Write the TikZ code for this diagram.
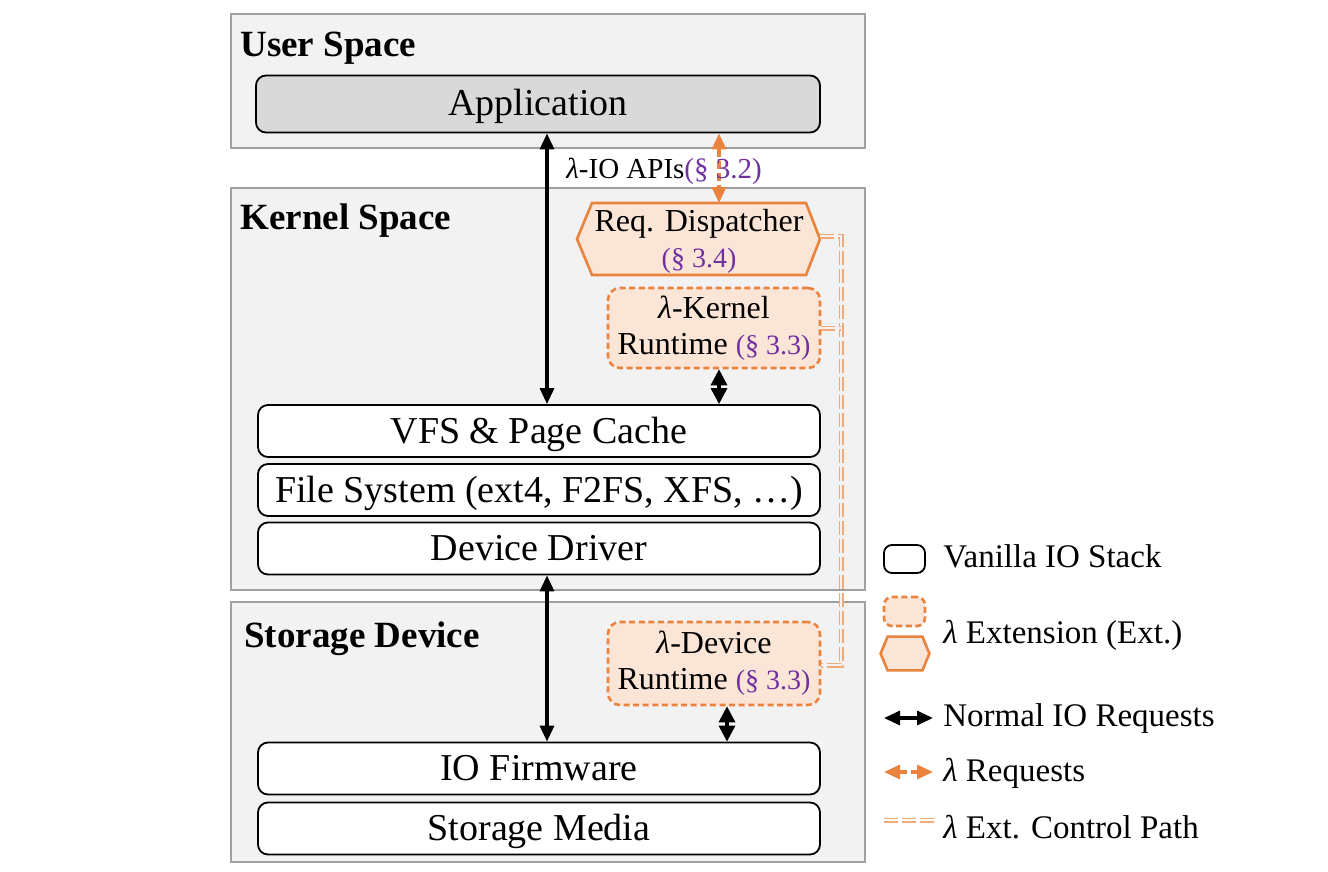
\documentclass[tikz,border=0pt]{standalone}
\usepackage{fontspec}
\setmainfont{Liberation Serif}
\usetikzlibrary{arrows.meta,calc}
\definecolor{extorange}{HTML}{E9833D}
\definecolor{extfill}{HTML}{FBE5D6}
\definecolor{ctrlorange}{HTML}{F1A977}
\definecolor{secpurple}{HTML}{7030A0}
\definecolor{layerfill}{HTML}{F2F2F2}
\definecolor{layergray}{HTML}{A0A0A0}
\definecolor{appfill}{HTML}{D9D9D9}
\newcommand\lam{\textit{λ}}
\newcommand\sect[1]{{\fontsize{14}{16}\selectfont\textcolor{secpurple}{#1}}}
\begin{document}
\begin{tikzpicture}[x=0.5pt,y=-0.5pt,
  layer/.style={draw=layergray, fill=layerfill, line width=1pt, minimum width=317pt, inner sep=0pt},
  layerlabel/.style={anchor=west, inner sep=0pt, font=\fontsize{18.5}{21}\selectfont\bfseries},
  stackbox/.style={draw=black, fill=white, rounded corners=5pt, line width=0.9pt, minimum width=281pt, minimum height=26pt, inner sep=0pt, text height=14pt, text depth=2pt, font=\fontsize{19}{22}\selectfont},
  extbox/.style={draw=extorange, fill=extfill, dash pattern=on 3pt off 1.8pt, rounded corners=6pt, line width=1.3pt, minimum width=106pt, inner sep=0pt, align=center, font=\fontsize{16}{19}\selectfont},
  hexline/.style={draw=extorange, fill=extfill, line width=1.3pt, line join=miter},
  bigarrow/.style={draw=black, line width=1.6pt, {Triangle[length=8pt,width=7pt]}-{Triangle[length=8pt,width=7pt]}},
  smallarrow/.style={draw=black, line width=1.6pt, {Triangle[length=8pt,width=8pt]}-{Triangle[length=8pt,width=8pt]}},
  lamarrow/.style={draw=extorange, line width=1.6pt, dash pattern=on 4pt off 2pt, {Triangle[length=8pt,width=7pt]}-{Triangle[length=8pt,width=7pt]}},
  ctrl/.style={draw=ctrlorange, line width=0.85pt, double=layerfill, double distance=0.8pt, dash pattern=on 7pt off 2pt},
  legtext/.style={anchor=west, inner sep=0pt, font=\fontsize{16.5}{19}\selectfont}
]
\useasboundingbox[fill=white] (0,0) rectangle (1328,872);

% layers
\node[layer, minimum height=67pt] (user) at (548,81) {};
\node[layer, minimum height=201pt] (kernel) at (548,389) {};
\node[layer, minimum height=130pt] (storage) at (548,732) {};
\node[layerlabel] (userlbl) at (240,48) {User Space};
\node[layerlabel] (kernellbl) at (240,221) {Kernel Space};
\node[layerlabel] (storagelbl) at (244,639) {Storage Device};

% stack boxes
\node[stackbox, fill=appfill, minimum width=282pt, minimum height=28.5pt] (app) at (538,104) {Application};
\node[stackbox] (vfs) at (539,431) {VFS \& Page Cache};
\node[stackbox] (fs) at (539,490) {File System (ext4, F2FS, XFS, …)};
\node[stackbox] (drv) at (539,548.5) {Device Driver};
\node[stackbox] (fw) at (539,768.5) {IO Firmware};
\node[stackbox] (media) at (539,828.5) {Storage Media};

% request dispatcher (hexagon)
\coordinate (dispc) at (699,239);
\path[hexline] ($(dispc)+(-107,-36)$) -- ($(dispc)+(107,-36)$) -- ($(dispc)+(121,0)$) -- ($(dispc)+(107,36)$)
  -- ($(dispc)+(-107,36)$) -- ($(dispc)+(-122,0)$) -- cycle;
\node[inner sep=0pt, minimum width=107pt, minimum height=36pt, align=center, font=\fontsize{16}{19}\selectfont] (disp) at (699,241)
  {Req. Dispatcher\\[-1pt]\sect{(§ 3.4)}};

% runtimes
\node[extbox, minimum height=40pt] (krt) at (714,328) {\lam-Kernel\\[-1pt]Runtime \sect{(§ 3.3)}};
\node[extbox, minimum height=41.5pt] (drt) at (714,663.5) {\lam-Device\\[-1pt]Runtime \sect{(§ 3.3)}};

% arrows
\draw[bigarrow] (app.south -| 547,0) -- (vfs.north -| 547,0);
\draw[bigarrow] (drv.south -| 547,0) -- (fw.north -| 547,0);
\draw[lamarrow] (app.south -| 719,0) -- ($(dispc)+(20,-36)$ -| 719,0);
\draw[smallarrow] (krt.south -| 719,0) -- (vfs.north -| 719,0);
\draw[smallarrow] (drt.south -| 727,0) -- (fw.north -| 727,0);
\node[anchor=west, inner sep=0pt, font=\fontsize{14.5}{16}\selectfont] (apilbl) at (566,171)
  {\lam-IO APIs\textcolor{secpurple}{(§ 3.2)}};

% control path
\coordinate (ctrltop) at (841,236);
\coordinate (ctrlbot) at (841,665);
\coordinate (dispright) at ($(dispc)+(121,-3)$);
\draw[ctrl] (dispright) -- (ctrltop) -- (ctrlbot) -- (drt.east |- ctrlbot);
\draw[ctrl] (krt.east) -- (krt.east -| ctrltop);

% legend
\node[draw=black, fill=white, rounded corners=4pt, line width=0.9pt, minimum width=20.5pt, minimum height=14pt, inner sep=0pt] (lvan) at (904.5,559) {};
\node[legtext] (lvantxt) at (943,556) {Vanilla IO Stack};
\node[draw=extorange, fill=extfill, dash pattern=on 3pt off 1.8pt, rounded corners=4pt, line width=1.3pt, minimum width=20.5pt, minimum height=14.5pt, inner sep=0pt] (lext) at (904.5,611.5) {};
\node[inner sep=0pt, minimum width=17pt, minimum height=16.5pt] (lhex) at (905,653.5) {};
\path[hexline] (lhex.north west) -- (lhex.north east) -- ($(lhex.east)+(7,0)$) -- (lhex.south east)
  -- (lhex.south west) -- ($(lhex.west)+(-7,0)$) -- cycle;
\node[legtext] (lexttxt) at (943,635) {\lam\ Extension (Ext.)};
\coordinate (la1) at (884,718);
\coordinate (la2) at (933,718);
\draw[bigarrow] (la1) -- (la2);
\node[legtext] (lnormtxt) at (943,719) {Normal IO Requests};
\coordinate (lb1) at (884,772);
\coordinate (lb2) at (933,772);
\draw[lamarrow] (lb1) -- (lb2);
\node[legtext] (lreqtxt) at (943,773) {\lam\ Requests};
\coordinate (lc1) at (884,820);
\coordinate (lc2) at (934,820);
\draw[ctrl, double=white] (lc1) -- (lc2);
\node[legtext] (lctrltxt) at (943,827) {\lam\ Ext. Control Path};
\end{tikzpicture}
\end{document}
